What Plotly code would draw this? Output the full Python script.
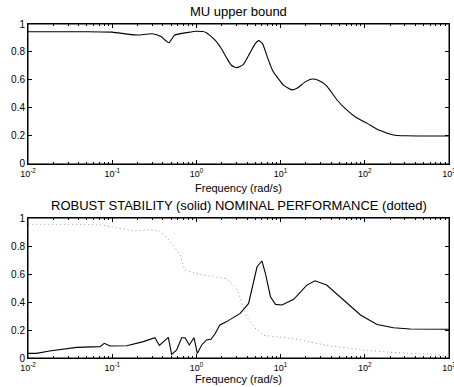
import plotly.graph_objects as go
from plotly.subplots import make_subplots

# ---- data ----
mu_freq = [0.01, 0.05, 0.1, 0.15, 0.2, 0.3, 0.38, 0.47, 0.55, 0.8, 1.0, 1.3, 1.7, 2.0, 2.3, 2.6, 3.0,
           3.6, 4.3, 5.0, 5.5, 6.1, 7.0, 8.0, 9.0, 11, 13.6, 16, 20, 23.6, 28, 35, 46.8, 60, 80, 107,
           150, 219, 300, 1000]
mu_val = [0.945, 0.945, 0.942, 0.928, 0.921, 0.93, 0.91, 0.866, 0.92, 0.94, 0.948, 0.94, 0.88, 0.82,
          0.755, 0.705, 0.688, 0.71, 0.79, 0.86, 0.881, 0.86, 0.76, 0.67, 0.624, 0.56, 0.529, 0.545,
          0.59, 0.607, 0.598, 0.56, 0.457, 0.39, 0.33, 0.29, 0.24, 0.207, 0.201, 0.2]

rs_freq = [0.01, 0.0126, 0.018, 0.0379, 0.0716, 0.0805, 0.0944, 0.149, 0.234, 0.322, 0.363, 0.464,
           0.508, 0.583, 0.668, 0.733, 0.824, 0.936, 1.025, 1.156, 1.32, 1.49, 1.66, 1.9, 2.29,
           3.31, 4.17, 5.25, 6.0, 6.6, 7.58, 8.7, 10.4, 14.3, 20.5, 25.6, 35.2, 55.9, 88.9, 139.6,
           219, 346, 1000]
rs_val = [0.033, 0.033, 0.05, 0.076, 0.081, 0.105, 0.086, 0.088, 0.117, 0.145, 0.09, 0.148, 0.026,
          0.057, 0.145, 0.145, 0.093, 0.145, 0.033, 0.093, 0.129, 0.134, 0.171, 0.236, 0.26, 0.319,
          0.39, 0.652, 0.693, 0.605, 0.438, 0.383, 0.379, 0.419, 0.521, 0.552, 0.521, 0.414, 0.307,
          0.24, 0.216, 0.207, 0.205]

np_freq = [0.01, 0.07, 0.094, 0.178, 0.28, 0.37, 0.49, 0.64, 0.73, 1.0, 1.58, 2.29, 3.04, 3.98,
           5.25, 6.3, 9.1, 14.3, 22.4, 35.2, 88.9, 219, 550, 1000]
np_val = [0.955, 0.952, 0.94, 0.909, 0.916, 0.904, 0.832, 0.737, 0.629, 0.605, 0.581, 0.565, 0.486,
          0.294, 0.199, 0.163, 0.151, 0.139, 0.115, 0.091, 0.06, 0.039, 0.027, 0.02]

x_tickvals = [0.01, 0.1, 1, 10, 100, 1000]
x_ticktext = ["10<sup>-2</sup>", "10<sup>-1</sup>", "10<sup>0</sup>", "10<sup>1</sup>",
              "10<sup>2</sup>", "10<sup>3</sup>"]
y_tickvals = [0, 0.2, 0.4, 0.6, 0.8, 1]
y_ticktext = ["0", "0.2", "0.4", "0.6", "0.8", "1"]

top_title = "MU upper bound"
bot_title = "ROBUST STABILITY (solid) NOMINAL PERFORMANCE (dotted)"
x_label = "Frequency (rad/s)"

# ---- figure ----
fig = make_subplots(rows=2, cols=1, vertical_spacing=0.162)

fig.add_trace(go.Scatter(x=mu_freq, y=mu_val, mode="lines",
                         line=dict(color="black", width=1.1, shape="spline", smoothing=0.5)),
              row=1, col=1)
fig.add_trace(go.Scatter(x=rs_freq, y=rs_val, mode="lines",
                         line=dict(color="black", width=1.1)), row=2, col=1)
fig.add_trace(go.Scatter(x=np_freq, y=np_val, mode="lines",
                         line=dict(color="#999999", width=1, dash="1px,3px",
                                   shape="spline", smoothing=0.4)), row=2, col=1)

ff = "Liberation Sans, Arial, Helvetica, sans-serif"
xfont = dict(family=ff, size=9, color="black")
yfont = dict(family=ff, size=10, color="black")

for r in (1, 2):
    fig.update_xaxes(type="log", range=[-2, 3], tickvals=x_tickvals, ticktext=x_ticktext,
                     ticks="inside", ticklen=4, tickcolor="black", showline=True, linecolor="black",
                     linewidth=1, mirror="allticks", showgrid=False, zeroline=False,
                     minor=dict(ticks="inside", ticklen=2, dtick="D1", tickcolor="black",
                                showgrid=False),
                     tickfont=xfont, automargin=False, ticklabeloverflow="allow",
                     ticklabelstandoff=1,
                     row=r, col=1)
    fig.update_yaxes(range=[0, 1], tickvals=y_tickvals, ticktext=y_ticktext,
                     ticks="inside", ticklen=4, tickcolor="black", showline=True, linecolor="black",
                     linewidth=1, mirror="allticks", showgrid=False, zeroline=False,
                     tickfont=yfont, automargin=False, row=r, col=1)

# frame boxes around each axes
for xr, yr in (("x domain", "y domain"), ("x2 domain", "y2 domain")):
    fig.add_shape(type="rect", xref=xr, yref=yr, x0=0, x1=1, y0=0, y1=1,
                  line=dict(color="black", width=1), fillcolor="rgba(0,0,0,0)", layer="above")

title_font = dict(family=ff, size=13, color="black")
label_font = dict(family=ff, size=11, color="black")
fig.update_layout(
    width=454, height=387,
    margin=dict(l=28, r=5, t=24, b=29),
    paper_bgcolor="white", plot_bgcolor="white",
    showlegend=False,
    font=yfont,
    annotations=[
        dict(text=top_title, x=0.5, y=1, xref="paper", yref="paper", xanchor="center",
             yanchor="bottom", yshift=3, showarrow=False, font=title_font),
        dict(text=bot_title, x=0.5, y=0.419, xref="paper", yref="paper", xanchor="center",
             yanchor="bottom", yshift=3, showarrow=False, font=title_font),
        dict(text=x_label, x=0.5, y=0.581, xref="paper", yref="paper", xanchor="center",
             yanchor="top", yshift=-16, showarrow=False, font=label_font),
        dict(text=x_label, x=0.5, y=0, xref="paper", yref="paper", xanchor="center",
             yanchor="top", yshift=-13, showarrow=False, font=label_font),
    ],
)

fig.write_html("out.html", config={"displayModeBar": False},
               post_script="document.body.style.margin='0';document.body.style.padding='0';"
                           "document.body.style.overflow='hidden';")
